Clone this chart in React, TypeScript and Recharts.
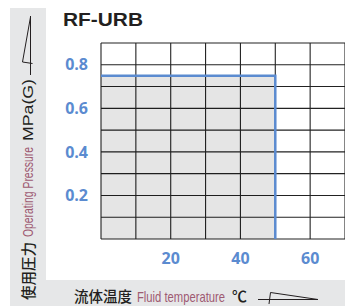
import React from 'react';
import { ComposedChart, Area, XAxis, YAxis, CartesianGrid } from 'recharts';

// temperature axis (°C)
const tempTicks = [0, 10, 20, 30, 40, 50, 60, 70];
const tempLabels = [20, 40, 60];

// pressure axis (MPa)
const pressureTicks = [0, 0.1, 0.2, 0.3, 0.4, 0.5, 0.6, 0.7, 0.8, 0.9];
const pressureLabels = [0.2, 0.4, 0.6, 0.8];

// usable range envelope
const envelopeTemp = [0, 50, 50];
const envelopePressure = [0.75, 0.75, 0];

const BLUE = '#5b8bd0';
const MAUVE = '#9e5a72';
const INK = '#231f20';
const FRAME = '#e6e7e8';

const tickStyle = {
  fill: BLUE,
  fontSize: 16,
  fontWeight: 700,
  fontFamily: '"Open Sans", sans-serif',
};

export default function App() {
  const data = envelopeTemp.map((t, i) => ({ temp: t, pressure: envelopePressure[i] }));

  return (
    <div style={{ position: 'absolute', left: 0, top: 0, width: 345, height: 306, background: '#fff', overflow: 'hidden' }}>
      {/* grey frame left + bottom */}
      <div style={{ position: 'absolute', left: 10, top: 8, width: 335, height: 298, background: FRAME }} />
      <div style={{ position: 'absolute', left: 46, top: 0, width: 299, height: 280, background: '#fff' }} />

      <div style={{ position: 'absolute', left: 0, top: 0 }}>
        <ComposedChart width={346} height={306} data={data} margin={{ top: 43, right: 1, bottom: 27, left: 41 }}>
          <CartesianGrid stroke="#222" strokeWidth={1.1} fill="none" />
          <XAxis
            dataKey="temp"
            type="number"
            domain={[0, 70]}
            ticks={tempTicks}
            interval={0}
            height={40}
            axisLine={false}
            tickLine={false}
            tickSize={0}
            tickMargin={14}
            tick={tickStyle}
            tickFormatter={(v: number) => (tempLabels.includes(v) ? String(v) : '')}
          />
          <YAxis
            type="number"
            domain={[0, 0.9]}
            ticks={pressureTicks}
            interval={0}
            width={60}
            axisLine={false}
            tickLine={false}
            tickSize={0}
            tickMargin={13}
            tick={tickStyle}
            tickFormatter={(v: number) => (pressureLabels.includes(v) ? v.toFixed(1) : '')}
          />
          <Area
            type="linear"
            dataKey="pressure"
            stroke={BLUE}
            strokeWidth={2.5}
            fill="#000"
            fillOpacity={0.1}
            isAnimationActive={false}
            dot={false}
            activeDot={false}
          />
        </ComposedChart>
      </div>

      {/* titles */}
      <svg width={345} height={306} style={{ position: 'absolute', left: 0, top: 0, pointerEvents: 'none' }}>
        <text x={63} y={26} fontFamily='"Liberation Sans", Arial, sans-serif' fontWeight={700} fontSize={18.5} fill={INK} textLength={80} lengthAdjust="spacingAndGlyphs">
          RF-URB
        </text>

        {/* y axis title */}
        <g transform="translate(34, 300) rotate(-90)">
          <text x={0} y={0} fontFamily='"Noto Sans CJK JP", sans-serif' fontWeight={500} fontSize={14.5} fill={INK} textLength={58} lengthAdjust="spacingAndGlyphs">
            使用圧力
          </text>
          <text transform="translate(63, -1) scale(0.716, 1)" fontFamily='"Liberation Sans", sans-serif' fontSize={14.5} fill={MAUVE}>
            Operating Pressure
          </text>
          <text x={159} y={-1} fontFamily='"Liberation Sans", sans-serif' fontSize={14.5} fill={INK} textLength={62} lengthAdjust="spacingAndGlyphs">
            MPa(G)
          </text>
        </g>
        <g stroke={INK} strokeWidth={1} fill="none">
          <line x1={30.5} y1={75} x2={30.5} y2={16} />
          <polyline points="30.5,17 22.5,62 32.5,63.5" />
        </g>

        {/* x axis title */}
        <text x={74} y={302} fontFamily='"Noto Sans CJK JP", sans-serif' fontWeight={500} fontSize={14.5} fill={INK} textLength={58} lengthAdjust="spacingAndGlyphs">
          流体温度
        </text>
        <text transform="translate(137, 302) scale(0.775, 1)" fontFamily='"Liberation Sans", sans-serif' fontSize={14.5} fill={MAUVE}>
          Fluid temperature
        </text>
        <text x={232} y={302} fontFamily='"Noto Sans CJK JP", sans-serif' fontWeight={500} fontSize={15} fill={INK}>
          ℃
        </text>
        <g stroke={INK} strokeWidth={1} fill="none">
          <line x1={258} y1={299.5} x2={318} y2={299.5} />
          <polyline points="269,304 270.5,292.5 318,299.5" />
        </g>
      </svg>
    </div>
  );
}
